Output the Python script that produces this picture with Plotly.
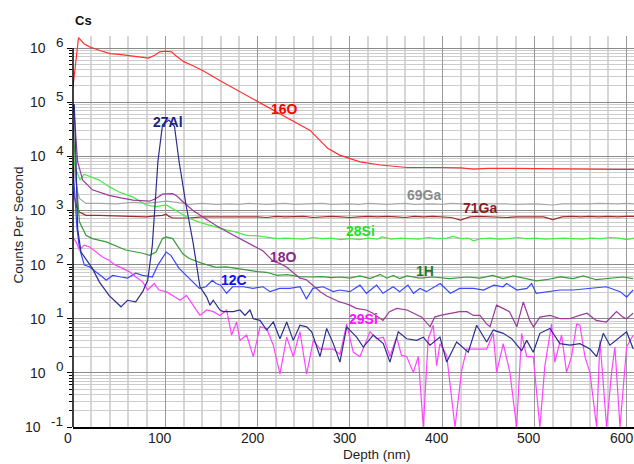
import plotly.graph_objects as go

# ---------------- data (depth in nm, counts per second) ----------------
O16_depth = [0, 6, 12, 18, 30, 40, 50, 62, 72, 82, 89, 94, 100, 107, 110.5, 120, 130, 141, 160, 181,
             200, 217, 237, 257, 266, 276, 289, 300, 311, 333, 362, 398, 420, 434, 450, 470, 500, 530, 560, 590, 608]
O16_cps = [1.9e5, 1.55e6, 1.2e6, 1.05e6, 8.9e5, 7.9e5, 7.6e5, 7.1e5, 6.8e5, 6.5e5,
           7.4e5, 8.5e5, 8.7e5, 8.5e5, 7.4e5, 5.6e5, 4.7e5, 3.8e5, 2.45e5, 1.55e5,
           1.05e5, 7.1e4, 4.7e4, 3.0e4, 2.1e4, 1.4e4, 1.05e4, 9.1e3, 7.9e3, 6.9e3,
           6.2e3, 6.2e3, 6.1e3, 5.8e3, 6.0e3, 6.0e3, 5.9e3, 5.9e3, 5.8e3, 5.75e3, 5.75e3]

Ga69_depth = [0, 2.5, 5, 7, 14, 28, 47, 65, 79, 90, 101, 112, 126, 140, 155,
              170, 180, 190, 200, 210, 220, 230, 240, 250, 260, 270, 280, 290, 300, 310, 320, 330, 340, 350, 360,
              370, 380, 390, 400, 410, 420, 430, 440, 450, 460, 470, 480, 490, 500, 510, 520, 530, 540, 550, 560,
              570, 580, 590, 600, 608]
Ga69_cps = [8000, 4000, 2200, 1660, 1350, 1350, 1320, 1410, 1350, 1410, 1480, 1410, 1290, 1350, 1290,
            1320, 1290, 1350, 1320, 1290, 1320, 1350, 1290, 1320, 1320, 1350, 1290, 1320, 1320, 1290, 1350, 1320, 1290, 1320, 1350,
            1290, 1320, 1320, 1290, 1350, 1320, 1290, 1320, 1320, 1350, 1320, 1290, 1320, 1320, 1290, 1260, 1320, 1320, 1290, 1320,
            1350, 1320, 1320, 1350, 1320]

Ga71_depth = [0, 4, 7, 14, 28, 47, 65, 79, 90, 97, 101, 104, 108, 126, 140, 155,
              170, 180, 190, 200, 210, 220, 230, 240, 250, 260, 270, 280, 290, 300, 310, 320, 330, 340, 350, 360,
              370, 380, 390, 400, 410, 420, 430, 440, 450, 460, 470, 480, 490, 500, 510, 520, 530, 540, 550, 560,
              570, 580, 590, 600, 608]
Ga71_cps = [2240, 1175, 933, 813, 813, 794, 794, 759, 794, 813, 851, 776, 724, 724, 759, 759,
            776, 759, 776, 759, 741, 776, 759, 759, 776, 741, 759, 776, 759, 741, 759, 776, 759, 776, 759, 741,
            776, 759, 776, 759, 741, 661, 759, 776, 759, 759, 741, 759, 759, 741, 759, 676, 759, 776, 759, 776,
            759, 776, 759, 776, 776]

Si28_depth = [0, 3, 5, 7.6, 12, 28.5, 39, 50, 64.7, 79, 90, 101, 111.6, 126, 141, 155, 166, 177, 188, 200,
              210, 221, 230, 239, 250, 260, 270, 280, 290, 300, 310, 320, 330, 335, 345, 355, 365, 375, 385, 395,
              405, 412, 420, 428, 434, 442, 452, 462, 472, 482, 492, 502, 512, 522, 532, 542, 552, 562, 572, 582,
              592, 600, 608]
Si28_cps = [10000, 5620, 4790, 3630, 4680, 3630, 2750, 2190, 1780, 1260, 1175, 1260, 1000, 708, 575, 490, 437, 398, 347, 339,
            324, 302, 309, 302, 295, 316, 302, 309, 288, 302, 288, 309, 295, 324, 295, 309, 302, 295, 316, 302,
            309, 331, 302, 309, 275, 302, 309, 295, 302, 316, 302, 309, 295, 302, 309, 302, 295, 309, 302, 316,
            309, 288, 309]

O18_depth = [0, 1.5, 5, 10.5, 21, 39, 52, 65, 83, 90, 97, 108, 113, 119, 130, 144, 155, 170, 188, 200,
             206, 217, 224, 231, 240, 246, 253, 260, 268, 275, 282, 289, 295, 300, 307, 318, 325, 336, 343, 351,
             362, 369, 378, 387, 392, 398, 408, 419, 427, 434, 441, 448, 452, 459, 466, 473, 481, 488, 495, 499,
             506, 517, 528, 538, 549, 557, 567, 578, 589, 596, 600, 607]
O18_cps = [89000, 57500, 7940, 3630, 2400, 1900, 1700, 1550, 1480, 1660, 2000, 2040, 1820, 1450, 1000, 708, 525, 380, 263, 200,
           178, 115, 105, 91, 69, 56, 52.5, 41.7, 31.6, 26.3, 22.9, 20.4, 19.1, 17.8, 15.5, 14.5, 12.6, 9.3, 13.5, 15.5,
           14.5, 12.6, 10.7, 7.1, 10.7, 11.5, 12.6, 13.5, 13.5, 11.5, 11.5, 8.1, 7.1, 17.8, 15.5, 13.5, 7.1, 20.4, 9.3, 7.1,
           10.7, 11.5, 10.0, 10.0, 11.5, 12.6, 9.3, 8.7, 13.5, 10.7, 10.0, 12.6]

H1_depth = [0, 3.3, 7, 14, 21, 36, 57, 75.5, 83, 90, 97, 101, 108, 119, 126, 140, 155, 166, 177, 188,
            200, 210, 221, 232, 245, 257, 270, 280, 289, 300, 311, 322, 333, 340, 347, 354, 362, 376, 390, 408,
            427, 441, 455, 466, 477, 491, 502, 513, 528, 542, 553, 567, 582, 596, 607]
H1_cps = [43600, 4000, 617, 347, 302, 263, 186, 162, 148, 170, 302, 324, 302, 158, 129, 105, 89, 91, 85, 79,
          74, 72, 63, 65, 60, 59, 60, 57.5, 59, 56, 61.7, 55, 66, 56, 63, 55, 61.7, 56, 59, 55,
          59, 56, 63, 55, 61.7, 55, 50, 52.5, 59, 55, 61.7, 52.5, 56, 59, 55]

C12_depth = [0, 2, 4.3, 7, 12.3, 17.7, 25, 32, 36, 43, 52, 59, 68, 75.5, 86, 92, 101, 106, 115, 126,
             137, 144, 151, 155, 160, 166.5, 173, 184.5, 195, 206, 213.5, 224, 235, 246, 253, 260, 271, 282, 289, 300,
             311, 318, 329, 336, 347, 354, 363, 369, 376, 383, 398, 409, 419, 434, 445, 456, 466, 470, 481, 492,
             497, 502, 513, 528, 542, 560, 578, 593, 600, 607]
C12_cps = [6310, 1585, 468, 200, 97.7, 91.2, 74.1, 58.9, 51.3, 63.1, 58.9, 56.2, 69.2, 63.1, 58.9, 97.7, 170, 148, 85.1, 55,
           36.3, 38.9, 51.3, 44.7, 41.7, 29.5, 38.9, 38.9, 36.3, 38.9, 31.6, 36.3, 36.3, 38.9, 23.4, 36.3, 38.9, 31.6, 33.9, 31.6,
           41.7, 29.5, 41.7, 29.5, 38.9, 31.6, 41.7, 29.5, 36.3, 31.6, 44.7, 29.5, 36.3, 36.3, 33.9, 41.7, 38.9, 44.7, 33.9, 36.3,
           44.7, 29.5, 31.6, 33.9, 33.9, 36.3, 38.9, 31.6, 25.1, 33.9]

Al27_depth = [0, 1.4, 3.3, 5, 8.7, 14, 21, 28.5, 39, 52, 59, 68, 75.5, 81, 86, 92, 97, 104, 110, 115,
              122.5, 130, 137.6, 144.9, 148.5, 152, 159.3, 162.9, 173.7, 181, 186.4, 191.8, 195.4, 202.6, 209.9, 217.1, 224.3, 231.6, 238.7, 246,
              253.2, 258.7, 267.7, 274.9, 282.1, 289.3, 296.6, 307.4, 314.6, 325.4, 336.3, 343.5, 352.5, 361.6, 372.5, 379.6, 386.9, 397.7, 405, 415.8,
              428.4, 437.5, 448.3, 455.5, 466.3, 475.4, 486.2, 491.7, 498.8, 506, 516.9, 527.7, 538.6, 549.4, 560.3, 567.5, 574.7, 581.9, 592.8, 600,
              607.2]
Al27_cps = [89000, 89000, 7940, 468, 170, 129, 85.1, 47.9, 26.9, 16.6, 21.9, 20.4, 31.6, 51.3, 229, 7940, 38000, 46800, 35500, 7940,
            1260, 263, 38.9, 25.1, 17.8, 21.9, 14.5, 13.5, 13.5, 14.5, 11.5, 14.5, 10.0, 9.33, 6.17, 8.7, 4.27, 8.7, 3.98, 7.59,
            7.08, 5.75, 2.0, 6.6, 3.47, 1.58, 7.08, 4.57, 3.0, 5.0, 3.47, 1.58, 5.75, 4.27, 3.98, 4.57, 3.24, 4.57, 1.58, 3.72,
            2.4, 7.59, 3.72, 6.17, 5.37, 4.27, 2.57, 3.98, 2.4, 5.37, 6.6, 3.47, 3.24, 3.47, 2.75, 2.0, 5.37, 3.24, 4.57, 5.75,
            2.75]

Si29_depth = [0, 3.3, 7, 12, 17.7, 25, 32, 39, 46, 54, 61, 68, 75.5, 81, 88, 93, 101, 108, 116, 123,
              130, 137.6, 144.9, 152, 159.3, 166.5, 171.9, 177.3, 181, 188.2, 195.4, 202.6, 209.9, 217.1, 224.3, 231.6, 238.7, 246, 253.2, 260.4,
              267.7, 274.9, 282.1, 289.3, 296.6, 303.8, 311, 321.9, 329.1, 336.3, 343.5, 350.7, 356.1, 361.6, 368.8, 374.2, 379.6, 385, 390.5, 394.1,
              397.7, 405, 414, 421.2, 426.6, 433.8, 441, 448.3, 455.5, 459.1, 466.3, 473.5, 480.8, 486.2, 491.7, 498.8, 506, 511.4, 518.6, 522.2,
              529.5, 534.9, 540.3, 545.8, 549.4, 554.8, 560.2, 567.5, 571.1, 578.3, 583.7, 587.3, 592.8, 600, 607.2]
Si29_cps = [316, 263, 186, 229, 214, 170, 138, 120, 97.7, 85.1, 74.1, 58.9, 47.9, 33.9, 44.7, 33.9, 31.6, 26.9, 21.9, 26.9,
            17.8, 11.5, 14.5, 13.5, 11.5, 14.5, 5.0, 8.7, 3.98, 5.0, 2.0, 7.08, 6.6, 3.24, 0.95, 4.57, 2.0, 5.75, 0.95, 3.98,
            2.75, 2.75, 2.75, 2.19, 7.94, 2.4, 2.0, 5.75, 4.27, 4.57, 2.0, 4.57, 2.1, 2.0, 1.02, 2.0, 0.1, 4.27, 7.59, 1.35,
            3.47, 2.1, 0.1, 1.1, 2.75, 2.75, 2.75, 2.75, 5.37, 1.02, 3.47, 1.02, 0.1, 5.37, 2.0, 2.0, 0.1, 1.35, 7.94, 1.58,
            5.0, 1.02, 2.0, 7.94, 7.59, 2.0, 1.02, 0.1, 3.98, 0.1, 1.02, 3.0, 0.1, 3.0, 5.0]

# series: (name, depth, cps, line colour, label colour, label depth, label log10 position)
series = [
    ("69Ga", Ga69_depth, Ga69_cps, "#a6a6a6", "#8a8a8a", 380, 3.28),
    ("71Ga", Ga71_depth, Ga71_cps, "#9e2a2a", "#8b1c1c", 441, 3.04),
    ("28Si", Si28_depth, Si28_cps, "#44ee44", "#22e022", 312, 2.62),
    ("1H", H1_depth, H1_cps, "#3a9a3a", "#1e7d1e", 381, 1.88),
    ("18O", O18_depth, O18_cps, "#9a3a9a", "#862a86", 227.6, 2.14),
    ("12C", C12_depth, C12_cps, "#3848ff", "#1010ee", 174.5, 1.71),
    ("29Si", Si29_depth, Si29_cps, "#ff44ff", "#ff10ff", 314.3, 0.99),
    ("27Al", Al27_depth, Al27_cps, "#2b2f8f", "#1a1f80", 103, 4.63),
    ("16O", O16_depth, O16_cps, "#ff3030", "#ff0000", 228.7, 4.87),
]

y_exponents = [6, 5, 4, 3, 2, 1, 0, -1]
x_ticks = [0, 100, 200, 300, 400, 500, 600]

FONT = "Liberation Sans, Arial, sans-serif"
Y_TOP = 6.2216            # a little head-room above 10^6 for the 16O peak
TOP_FRAC = 7 / (Y_TOP + 1)  # paper fraction of the 10^6 grid line

fig = go.Figure()
annotations = []
for name, d, c, lc, tc, lx, ly in series:
    fig.add_trace(go.Scatter(x=d, y=c, mode="lines", name=name,
                             line=dict(color=lc, width=1.2), hoverinfo="skip"))
    annotations.append(dict(x=lx, y=ly, xref="x", yref="y", text="<b>%s</b>" % name,
                            showarrow=False, font=dict(size=14, color=tc, family=FONT)))

# y tick labels: "10" with raised exponent
for e in y_exponents:
    base_shift = -30 if e == -1 else -25
    exp_shift = -8 if e == -1 else -7
    annotations.append(dict(x=0, y=e, xref="paper", yref="y", text="10", showarrow=False,
                            xanchor="right", yanchor="middle", xshift=base_shift,
                            font=dict(size=14, color="#222", family=FONT)))
    annotations.append(dict(x=0, y=e, xref="paper", yref="y", text=str(e), showarrow=False,
                            xanchor="right", yanchor="middle", xshift=exp_shift, yshift=6,
                            font=dict(size=13.5, color="#222", family=FONT)))

# x tick labels
for t in x_ticks:
    annotations.append(dict(x=t, y=0, xref="x", yref="paper", text=str(t), showarrow=False,
                            xanchor="center", yanchor="middle", xshift=-5, yshift=-11,
                            font=dict(size=14, color="#222", family=FONT)))

annotations.append(dict(x=0, y=1, xref="paper", yref="paper", text="<b>Cs</b>", showarrow=False,
                        xanchor="left", yanchor="middle", xshift=0, yshift=16,
                        font=dict(size=13, color="#111", family=FONT)))
annotations.append(dict(x=0, y=0.5166, xref="paper", yref="paper", text="Counts Per Second",
                        showarrow=False, textangle=-90, xanchor="center", yanchor="middle",
                        xshift=-54.5, font=dict(size=13.5, color="#222", family=FONT)))
annotations.append(dict(x=0.5413, y=0, xref="paper", yref="paper", text="Depth (nm)",
                        showarrow=False, xanchor="center", yanchor="middle", yshift=-27,
                        font=dict(size=13.5, color="#222", family=FONT)))

shapes = [
    # hide the grid in the head-room above 10^6
    dict(type="rect", xref="paper", yref="paper", x0=-0.001, x1=1.001, y0=0.9705, y1=1.0,
         fillcolor="white", line=dict(width=0), layer="between"),
    # left axis line (only up to 10^6)
    dict(type="line", xref="paper", yref="paper", x0=0, x1=0, y0=0, y1=TOP_FRAC,
         line=dict(color="black", width=1.5), layer="above"),
]

fig.update_layout(
    width=634, height=464,
    margin=dict(l=73, r=0, t=36, b=37, autoexpand=False),
    showlegend=False,
    plot_bgcolor="white", paper_bgcolor="white",
    font=dict(family=FONT, size=14, color="#222"),
    annotations=annotations,
    shapes=shapes,
    xaxis=dict(range=[0, 608], tick0=0, dtick=100, showgrid=True, gridcolor="#9a9a9a", gridwidth=1,
               minor=dict(dtick=20, tick0=0, showgrid=True, gridcolor="#d6d6d6", gridwidth=1.5),
               showline=True, linecolor="black", linewidth=1.5, ticks="", zeroline=False,
               showticklabels=False, automargin=False),
    yaxis=dict(type="log", range=[-1, Y_TOP], dtick=1, showgrid=True, gridcolor="#8a8a8a", gridwidth=1,
               minor=dict(dtick="D1", showgrid=True, gridcolor="#cccccc", ticks="outside", ticklen=3,
                          tickcolor="black"),
               ticks="outside", ticklen=5, tickcolor="black", showticklabels=False,
               showline=False, zeroline=False, automargin=False),
)

fig.write_html("out.html",
               config={"displayModeBar": False},
               post_script="document.body.style.margin='0';document.body.style.overflow='hidden';")
